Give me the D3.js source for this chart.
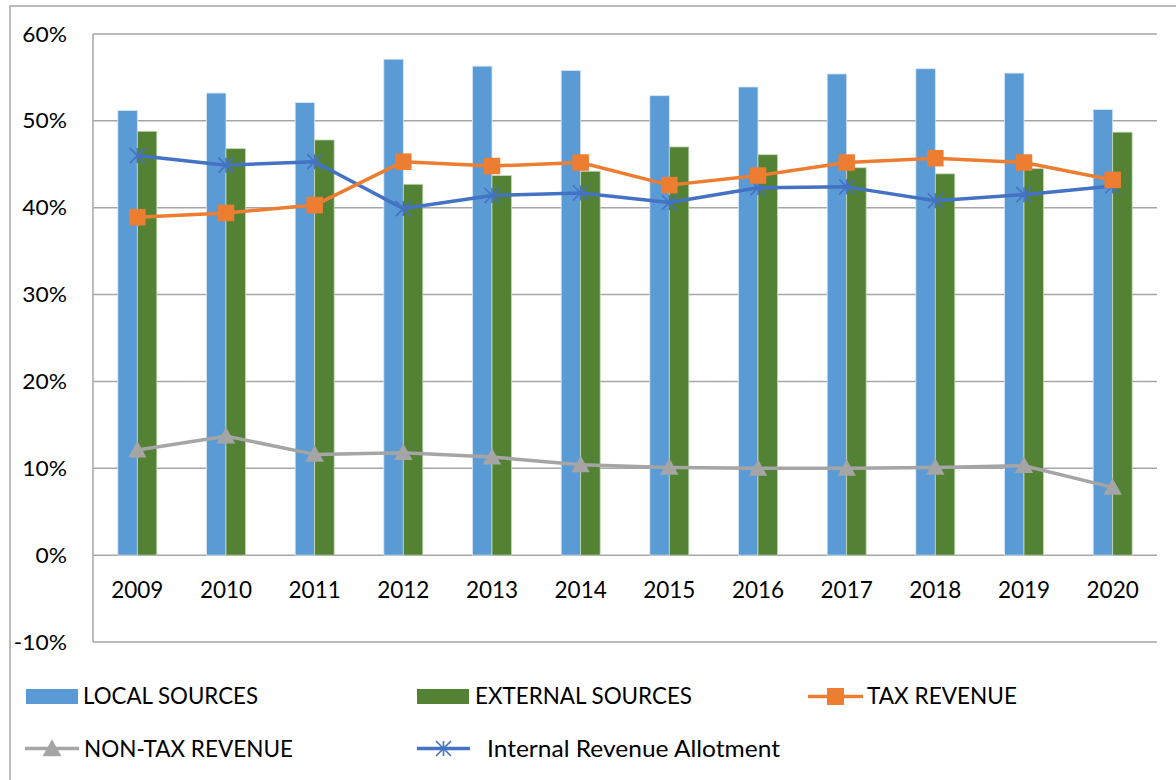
<!DOCTYPE html>
<html><head><meta charset="utf-8">
<script src="https://cdn.jsdelivr.net/npm/d3@7"></script>
<style>body{margin:0;background:#fff}svg{display:block;font-family:Lato,"Open Sans",sans-serif}</style>
</head><body><svg id="c" width="1176" height="780"></svg>
<script>
const years=["2009","2010","2011","2012","2013","2014","2015","2016","2017","2018","2019","2020"];
const localSources=[51.2,53.2,52.1,57.1,56.3,55.8,52.9,53.9,55.4,56.0,55.5,51.3];
const externalSources=[48.8,46.8,47.8,42.7,43.7,44.2,47.0,46.1,44.6,43.9,44.5,48.7];
const taxRevenue=[38.9,39.4,40.3,45.3,44.8,45.2,42.6,43.7,45.2,45.7,45.2,43.2];
const nonTaxRevenue=[12.1,13.7,11.6,11.8,11.3,10.4,10.1,10.0,10.0,10.1,10.3,7.8];
const ira=[46.0,44.9,45.3,39.9,41.4,41.7,40.6,42.3,42.4,40.8,41.5,42.5];
const yTicks=[-10,0,10,20,30,40,50,60];
const legendLabels=["LOCAL SOURCES","EXTERNAL SOURCES","TAX REVENUE","NON-TAX REVENUE","Internal Revenue Allotment"];

const svg=d3.select("#c");
const L=93,R=1157,T=34,B=642;
const x=d3.scaleBand().domain(years).range([L,R]);
const y=d3.scaleLinear().domain([-10,60]).range([B,T]);
const bw=19.5;

// outer border
svg.append("path").attr("d","M10,780V6H1176").attr("fill","none").attr("stroke","#a6a6a6").attr("stroke-width",1.5);

// gridlines
svg.append("g").selectAll("line").data(yTicks).join("line")
 .attr("x1",L).attr("x2",R).attr("y1",d=>y(d)).attr("y2",d=>y(d))
 .attr("stroke","#a6a6a6").attr("stroke-width",1.5);
svg.append("line").attr("x1",L).attr("x2",L).attr("y1",T).attr("y2",B).attr("stroke","#a6a6a6").attr("stroke-width",1.5);

// y labels
svg.append("g").selectAll("text").data(yTicks).join("text")
 .attr("transform",d=>`translate(67,${y(d)+7.5}) scale(1.06,1)`).attr("text-anchor","end").attr("font-size",21.5).attr("fill","#000")
 .text(d=>d+"%");
// x labels
svg.append("g").selectAll("text").data(years).join("text")
 .attr("x",d=>x(d)+x.bandwidth()/2).attr("y",598).attr("text-anchor","middle").attr("font-size",22.5).attr("fill","#000")
 .text(d=>d);

// bars
const cx=d=>x(d)+x.bandwidth()/2;
svg.append("g").selectAll("rect").data(years).join("rect")
 .attr("x",d=>cx(d)-bw).attr("width",bw).attr("y",(d,i)=>y(localSources[i])).attr("height",(d,i)=>y(0)-y(localSources[i]))
 .attr("fill","#5B9BD5").attr("stroke","#d6e6f5").attr("stroke-width",0.8);
svg.append("g").selectAll("rect").data(years).join("rect")
 .attr("x",d=>cx(d)).attr("width",bw).attr("y",(d,i)=>y(externalSources[i])).attr("height",(d,i)=>y(0)-y(externalSources[i]))
 .attr("fill","#548235").attr("stroke","#c5d6b8").attr("stroke-width",0.8);

const line=d3.line().x((d,i)=>cx(years[i])).y(d=>y(d));
function drawLine(vals,color){
 svg.append("path").attr("d",line(vals)).attr("fill","none").attr("stroke",color).attr("stroke-width",3.5).attr("stroke-linejoin","round");
}
drawLine(nonTaxRevenue,"#A5A5A5");
drawLine(ira,"#4472C4");
drawLine(taxRevenue,"#ED7D31");

function tri(g,px,py,s){g.append("path").attr("d",`M${px},${py-s*0.55}L${px+s*0.56},${py+s*0.45}L${px-s*0.56},${py+s*0.45}Z`).attr("fill","#A5A5A5");}
function sq(g,px,py,s){g.append("rect").attr("x",px-s/2).attr("y",py-s/2).attr("width",s).attr("height",s).attr("fill","#ED7D31");}
function star(g,px,py,s){
 const h=s/2;
 g.append("path").attr("d",`M${px-h},${py-h}L${px+h},${py+h}M${px+h},${py-h}L${px-h},${py+h}M${px},${py-h}L${px},${py+h}`)
  .attr("stroke","#4472C4").attr("stroke-width",1.6).attr("fill","none");
}
const gm=svg.append("g");
nonTaxRevenue.forEach((v,i)=>tri(gm,cx(years[i]),y(v),16.5));
ira.forEach((v,i)=>star(gm,cx(years[i]),y(v),15));
taxRevenue.forEach((v,i)=>sq(gm,cx(years[i]),y(v),16.5));

// legend
const lg=svg.append("g").attr("font-size",24).attr("fill","#000");
function ltext(px,py,t,w){lg.append("text").attr("x",px).attr("y",py).attr("textLength",w).attr("lengthAdjust","spacingAndGlyphs").text(t);}
lg.append("rect").attr("x",26).attr("y",689).attr("width",52).attr("height",15).attr("fill","#5B9BD5");
ltext(83,704,legendLabels[0],175);
lg.append("rect").attr("x",417).attr("y",689).attr("width",52).attr("height",15).attr("fill","#548235");
ltext(475,704,legendLabels[1],217);
lg.append("line").attr("x1",808).attr("x2",863).attr("y1",696.5).attr("y2",696.5).attr("stroke","#ED7D31").attr("stroke-width",3.5);
sq(lg,835.5,696.5,17);
ltext(867,704,legendLabels[2],150);
lg.append("line").attr("x1",25).attr("x2",79).attr("y1",748.5).attr("y2",748.5).attr("stroke","#A5A5A5").attr("stroke-width",3.5);
tri(lg,52,748.5,17);
ltext(84,756.5,legendLabels[3],209);
lg.append("line").attr("x1",417).attr("x2",470).attr("y1",748.5).attr("y2",748.5).attr("stroke","#4472C4").attr("stroke-width",3.5);
star(lg,443.5,748.5,15);
ltext(487,756.5,legendLabels[4],293);
</script></body></html>
